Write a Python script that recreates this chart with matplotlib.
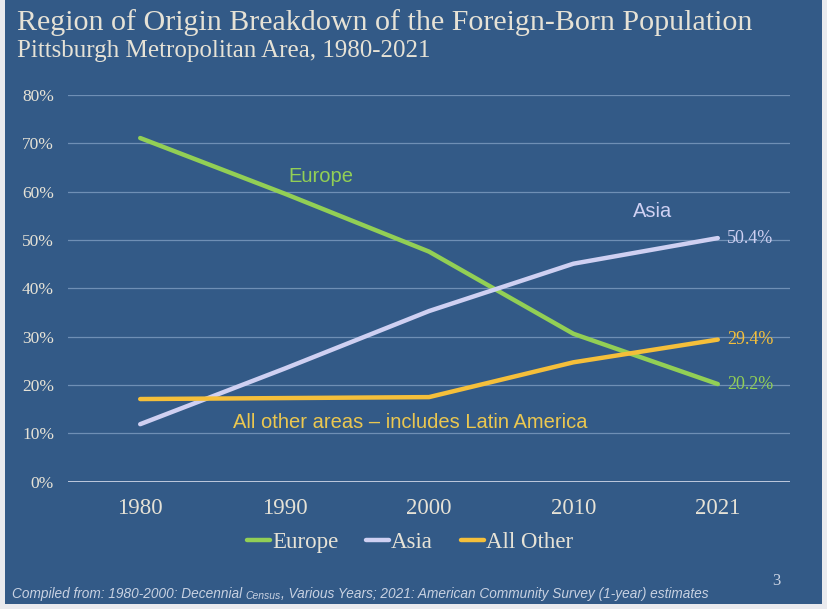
import matplotlib.pyplot as plt
from matplotlib.patches import Rectangle
from matplotlib.text import Annotation
from matplotlib.ticker import PercentFormatter

years = ['1980', '1990', '2000', '2010', '2021']
europe = [0.711, 0.596, 0.476, 0.306, 0.202]
asia = [0.119, 0.234, 0.353, 0.451, 0.504]
all_other = [0.171, 0.173, 0.175, 0.247, 0.294]

bg = '#335a87'
text_col = '#e6e2d6'
grid_col = '#6f8fb5'
foot_col = '#c9d2e2'
c_europe = '#92cf55'
c_asia = '#cfd0f2'
c_other = '#f5bf3a'

serif = ['Liberation Serif', 'DejaVu Serif']
sans = ['Liberation Sans', 'DejaVu Sans']

fig = plt.figure(figsize=(8.28, 6.09), dpi=100, facecolor='#e9eaee')
# slide background with thin light frame on left / right / bottom
fig.patches.append(Rectangle((5/828, 5/609), 817/828, 604/609, transform=fig.transFigure,
                             facecolor=bg, edgecolor='none', zorder=-10))

ax = fig.add_axes([68/828, 127.3/609, 722/828, 386.7/609])
ax.patch.set_alpha(0)

x = range(len(years))
ax.plot(x, europe, color=c_europe, lw=3.2, solid_capstyle='round', label='Europe', zorder=3)
ax.plot(x, asia, color=c_asia, lw=3.2, solid_capstyle='round', label='Asia', zorder=3)
ax.plot(x, all_other, color=c_other, lw=3.2, solid_capstyle='round', label='All Other', zorder=3)

ax.set_xlim(-0.5, 4.5)
ax.set_ylim(0, 0.8)
ax.set_yticks([i / 10 for i in range(9)])
ax.yaxis.set_major_formatter(PercentFormatter(1.0, decimals=0))
ax.set_xticks(list(x))
ax.set_xticklabels(years)
ax.grid(axis='y', color=grid_col, lw=0.9)
ax.axhline(0, color='#c8d2e4', lw=1.3, zorder=2)
for s in ax.spines.values():
    s.set_visible(False)
ax.tick_params(length=0)
ax.tick_params(axis='y', pad=10, labelcolor=text_col, labelsize=12.5)
ax.tick_params(axis='x', pad=12, labelcolor=text_col, labelsize=16.5)
for lab in ax.get_xticklabels() + ax.get_yticklabels():
    lab.set_family(serif)

# end-point value labels
for vals, col in [(asia, c_asia), (all_other, c_other), (europe, c_europe)]:
    ax.annotate(f'{vals[-1]*100:.1f}%', (4, vals[-1]), xytext=(6.5, 0), textcoords='offset points',
                va='center', color=col, fontsize=13, family=serif)

# inline series labels
ax.text(1.25, 0.632, 'Europe', color=c_europe, fontsize=14.5, family=sans, ha='center', va='center')
ax.text(3.55, 0.558, 'Asia', color=c_asia, fontsize=14.5, family=sans, ha='center', va='center')
ax.text(1.87, 0.122, 'All other areas \u2013 includes Latin America', color='#ebc750',
        fontsize=14.5, family=sans, ha='center', va='center')

leg = fig.legend(loc='center', bbox_to_anchor=(410/828, 1 - 542/609), ncol=3, frameon=False,
                 handlelength=1.0, handletextpad=0.1, columnspacing=1.2,
                 prop={'family': serif, 'size': 16.5})
for t in leg.get_texts():
    t.set_color(text_col)

fig.text(17/828, 1 - 23/609, 'Region of Origin Breakdown of the Foreign-Born Population',
         color=text_col, fontsize=21.6, family=serif, va='center')
fig.text(17/828, 1 - 51/609, 'Pittsburgh Metropolitan Area, 1980-2021',
         color=text_col, fontsize=18, family=serif, va='center')

# footer: "Census" is set smaller, chained after the first part
f1 = fig.text(12/828, 1 - 598/609, 'Compiled from: 1980-2000: Decennial ', color=foot_col,
              fontsize=9.85, style='italic', family=sans, va='baseline')
f2 = fig.add_artist(Annotation('Census', xy=(1, 0), xycoords=f1, va='bottom', ha='left',
                               color=foot_col, fontsize=7.5, style='italic', family=sans))
fig.add_artist(Annotation(', Various Years; 2021: American Community Survey (1-year) estimates',
                          xy=(1, 0), xycoords=f2, va='bottom', ha='left',
                          color=foot_col, fontsize=9.85, style='italic', family=sans))
fig.text(776/828, 1 - 581/609, '3', color=foot_col, fontsize=12, family=serif, va='center', ha='center')

fig.savefig('out.png', dpi=100, facecolor=fig.get_facecolor())
